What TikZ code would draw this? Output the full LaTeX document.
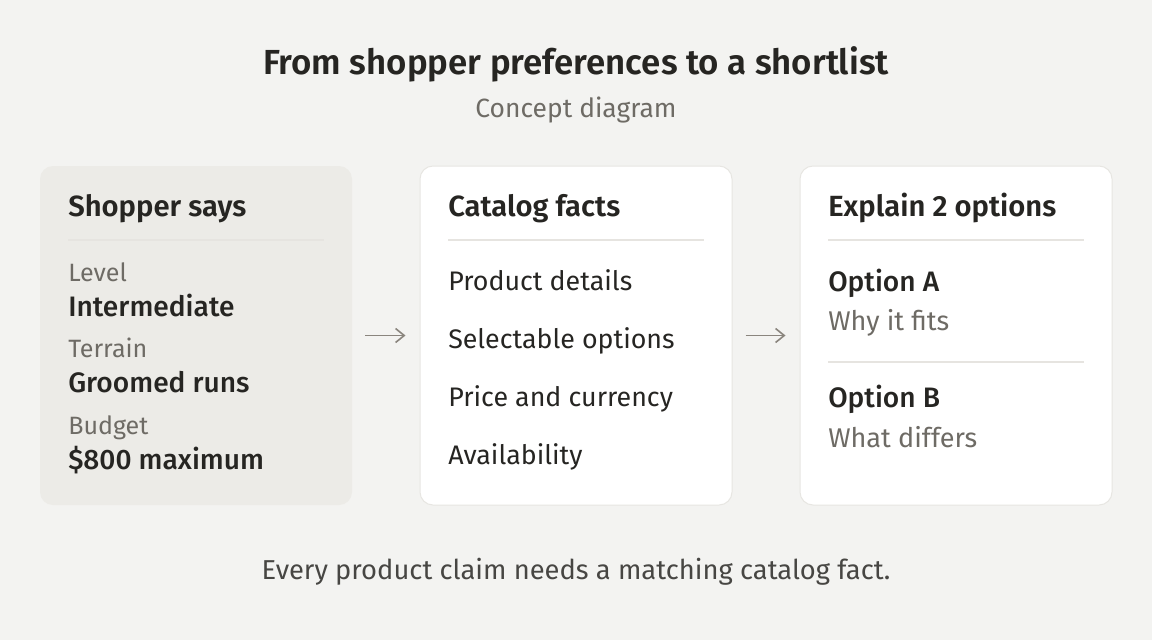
\documentclass[tikz,border=0pt]{standalone}
\usepackage{fontspec}
\setmainfont{Fira Sans}[BoldFont={Fira Sans SemiBold}]
\newfontfamily\mediumfont{Fira Sans Medium}
\usetikzlibrary{arrows.meta}
\definecolor{bg}{HTML}{F3F3F1}
\definecolor{panelA}{HTML}{ECEBE7}
\definecolor{panelB}{HTML}{FFFFFF}
\definecolor{edge}{HTML}{E7E6E2}
\definecolor{ink}{HTML}{262522}
\definecolor{muted}{HTML}{6E6B65}
\definecolor{rule}{HTML}{E6E4E0}
\definecolor{arrowc}{HTML}{8A857E}
\tikzset{
  panel/.style={rectangle, rounded corners=9.75pt, minimum width=234pt, minimum height=254.25pt, inner sep=0pt},
  ttl/.style={anchor=base, inner sep=0pt, text=ink, font=\fontsize{26.1}{30}\selectfont\bfseries},
  sub/.style={anchor=base, inner sep=0pt, text=muted, font=\fontsize{19.8}{24}\selectfont},
  head/.style={anchor=base west, inner sep=0pt, text=ink, font=\fontsize{21.9}{26}\selectfont\bfseries},
  item/.style={anchor=base west, inner sep=0pt, text=ink, font=\fontsize{20.1}{24}\selectfont},
  label/.style={anchor=base west, inner sep=0pt, text=muted, font=\fontsize{18.8}{22}\selectfont},
  note/.style={anchor=base west, inner sep=0pt, text=muted, font=\fontsize{20.3}{24}\selectfont},
  value/.style={anchor=base west, inner sep=0pt, text=ink, font=\fontsize{21.1}{25}\selectfont\mediumfont},
  foot/.style={anchor=base, inner sep=0pt, text=ink!85, font=\fontsize{20.5}{24}\selectfont},
  divider/.style={draw=rule, line width=1.2pt},
  arr/.style={draw=arrowc, line width=1.2pt, -{Straight Barb[length=6.5pt, width=10.5pt, line width=1.2pt]}, shorten <=9.75pt, shorten >=10.5pt}
}
\begin{document}
\begin{tikzpicture}[x=0.75pt, y=-0.75pt]
\useasboundingbox (0,0) rectangle (1152,640);
\fill[bg] (0,0) rectangle (1152,640);

\node[ttl] (title) at (576,74) {From shopper preferences to a shortlist};
\node[sub] (subtitle) at (576,117) {Concept diagram};

\node[panel, fill=panelA] (b1) at (196,335.5) {};
\node[panel, fill=panelB, draw=edge, line width=0.75pt] (b2) at (576,335.5) {};
\node[panel, fill=panelB, draw=edge, line width=0.75pt] (b3) at (956,335.5) {};

% box 1
\node[head] (h1) at (68,216) {Shopper says};
\draw[divider] (68,240) -- (324,240);
\node[label] (l1) at (68,281) {Level};
\node[value] (v1) at (68,316) {Intermediate};
\node[label] (l2) at (68,357) {Terrain};
\node[value] (v2) at (68,392) {Groomed runs};
\node[label] (l3) at (68,434) {Budget};
\node[value] (v3) at (68,469) {\$800 maximum};

% box 2
\node[head] (h2) at (448,216) {Catalog facts};
\draw[divider] (448,240) -- (704,240);
\node[item] (c1) at (448,290) {Product details};
\node[item] (c2) at (448,348) {Selectable options};
\node[item] (c3) at (448,406) {Price and currency};
\node[item] (c4) at (448,464) {Availability};

% box 3
\node[head] (h3) at (828,216) {Explain 2 options};
\draw[divider] (828,240) -- (1084,240);
\node[value] (oa) at (828,291) {Option A};
\node[note] (wa) at (828,330) {Why it fits};
\draw[divider] (828,362) -- (1084,362);
\node[value] (ob) at (828,407) {Option B};
\node[note] (wb) at (828,447) {What differs};

\draw[arr] (b1.east) -- (b2.west);
\draw[arr] (b2.east) -- (b3.west);

\node[foot] (footer) at (576,579) {Every product claim needs a matching catalog fact.};
\end{tikzpicture}
\end{document}
